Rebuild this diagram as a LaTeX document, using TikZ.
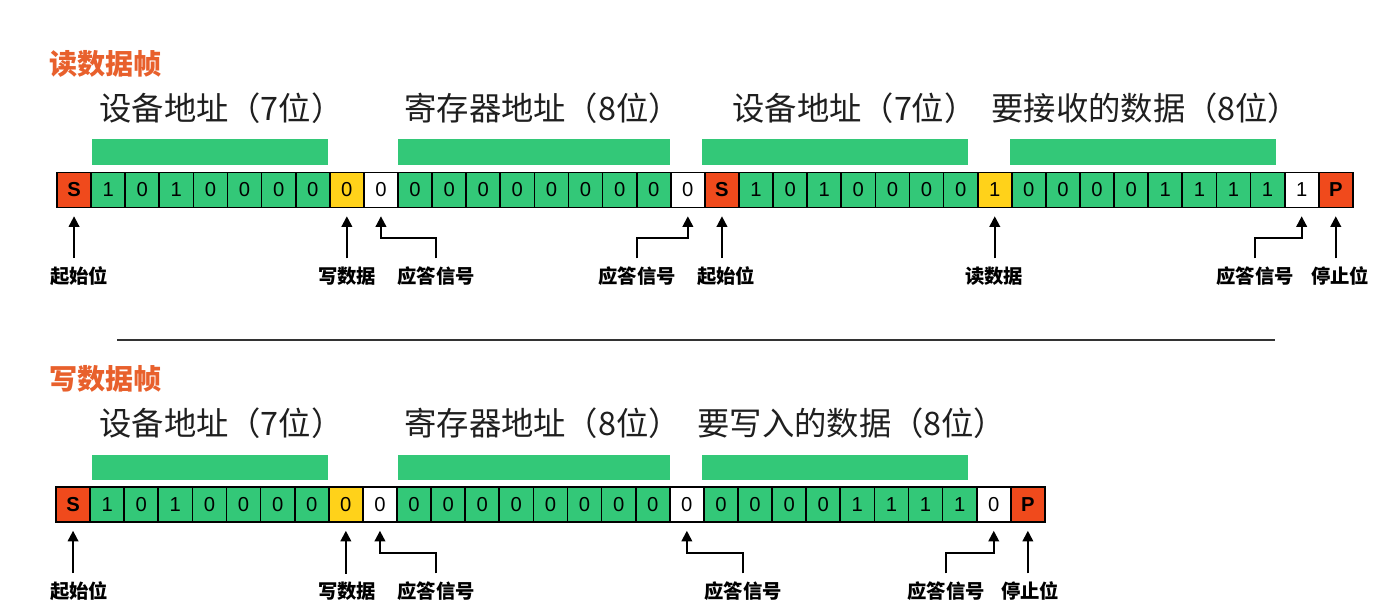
\documentclass[tikz,border=0pt]{standalone}
\usepackage{fontspec}
\setmainfont{Liberation Sans}
\newfontfamily\cjk{Noto Sans CJK SC}
\usetikzlibrary{arrows.meta, positioning}

\definecolor{bitgreen}{HTML}{33C878}
\definecolor{bitred}{HTML}{F04A1C}
\definecolor{bityellow}{HTML}{FFD21A}
\definecolor{headorange}{HTML}{E8602C}

\tikzset{
  bitcell/.style={draw=black, line width=1pt, minimum width=0.682cm, minimum height=0.7cm, inner sep=0pt, font=\fontsize{11.5}{11.5}\selectfont},
  fieldname/.style={anchor=west, inner sep=0pt, text=black!88, font=\cjk\fontsize{18.4}{18.4}\selectfont},
  framehead/.style={anchor=west, inner sep=0pt, text=headorange, font=\cjk\bfseries\fontsize{16}{16}\selectfont},
  siglabel/.style={inner sep=0pt, font=\cjk\bfseries\fontsize{11}{11}\selectfont},
  sigarrow/.style={-{Triangle[length=6pt,width=6pt]}, line width=1.1pt, shorten <=4.5pt, shorten >=4.5pt},
}

\begin{document}
\begin{tikzpicture}[x=0.02cm, y=-0.02cm]
\useasboundingbox (0,0) rectangle (1381,611);

% ---- read frame ----
\node[framehead] (rhead) at (49,64) {读数据帧};
\node[fieldname] (rt1) at (99,108) {设备地址（7位）};
\node[fieldname] (rt2) at (404,108) {寄存器地址（8位）};
\node[fieldname] (rt3) at (732,108) {设备地址（7位）};
\node[fieldname] (rt4) at (991,108) {要接收的数据（8位）};
\fill[bitgreen] (92,139) rectangle (328,165);
\fill[bitgreen] (398,139) rectangle (670,165);
\fill[bitgreen] (702,139) rectangle (968,165);
\fill[bitgreen] (1010,139) rectangle (1276,165);

\foreach \v/\c [count=\i from 0] in {{\textbf{S}}/bitred, 1/bitgreen, 0/bitgreen, 1/bitgreen, 0/bitgreen, 0/bitgreen, 0/bitgreen, 0/bitgreen,
    0/bityellow, 0/white, 0/bitgreen, 0/bitgreen, 0/bitgreen, 0/bitgreen, 0/bitgreen, 0/bitgreen, 0/bitgreen, 0/bitgreen, 0/white,
    {\textbf{S}}/bitred, 1/bitgreen, 0/bitgreen, 1/bitgreen, 0/bitgreen, 0/bitgreen, 0/bitgreen, 0/bitgreen, 1/bityellow,
    0/bitgreen, 0/bitgreen, 0/bitgreen, 0/bitgreen, 1/bitgreen, 1/bitgreen, 1/bitgreen, 1/bitgreen, 1/white, {\textbf{P}}/bitred}
  \node[bitcell, fill=\c] (r\i) at ({57+(\i+0.5)*34.1},190) {\v};

\node[siglabel] (rl1) at (79,276) {起始位};
\node[siglabel] (rl2) at (347,276) {写数据};
\node[siglabel] (rl3) at (436,276) {应答信号};
\node[siglabel] (rl4) at (637,276) {应答信号};
\node[siglabel] (rl5) at (726,276) {起始位};
\node[siglabel] (rl6) at (994,276) {读数据};
\node[siglabel] (rl7) at (1255,276) {应答信号};
\node[siglabel] (rl8) at (1340,276) {停止位};

\draw[sigarrow] (rl1.north -| r0.south) -- (r0.south);
\draw[sigarrow] (rl2.north -| r8.south) -- (r8.south);
\draw[sigarrow] (rl3.north) -- ++(0,-28) -| (r9.south);
\draw[sigarrow] (rl4.north) -- ++(0,-28) -| (r18.south);
\draw[sigarrow] (rl5.north -| r19.south) -- (r19.south);
\draw[sigarrow] (rl6.north -| r27.south) -- (r27.south);
\draw[sigarrow] (rl7.north) -- ++(0,-28) -| (r36.south);
\draw[sigarrow] (rl8.north -| r37.south) -- (r37.south);

% separator
\draw[line width=0.8pt, black!80] (117,340) -- (1275,340);

% ---- write frame ----
\node[framehead] (whead) at (49,379) {写数据帧};
\node[fieldname] (wt1) at (99,423) {设备地址（7位）};
\node[fieldname] (wt2) at (404,423) {寄存器地址（8位）};
\node[fieldname] (wt3) at (697,423) {要写入的数据（8位）};
\fill[bitgreen] (92,455) rectangle (328,480);
\fill[bitgreen] (398,455) rectangle (670,480);
\fill[bitgreen] (702,455) rectangle (968,480);

\foreach \v/\c [count=\i from 0] in {{\textbf{S}}/bitred, 1/bitgreen, 0/bitgreen, 1/bitgreen, 0/bitgreen, 0/bitgreen, 0/bitgreen, 0/bitgreen,
    0/bityellow, 0/white, 0/bitgreen, 0/bitgreen, 0/bitgreen, 0/bitgreen, 0/bitgreen, 0/bitgreen, 0/bitgreen, 0/bitgreen, 0/white,
    0/bitgreen, 0/bitgreen, 0/bitgreen, 0/bitgreen, 1/bitgreen, 1/bitgreen, 1/bitgreen, 1/bitgreen, 0/white, {\textbf{P}}/bitred}
  \node[bitcell, fill=\c] (w\i) at ({56+(\i+0.5)*34.1},504.5) {\v};

\node[siglabel] (wl1) at (79,591) {起始位};
\node[siglabel] (wl2) at (347,591) {写数据};
\node[siglabel] (wl3) at (436,591) {应答信号};
\node[siglabel] (wl4) at (743,591) {应答信号};
\node[siglabel] (wl5) at (946,591) {应答信号};
\node[siglabel] (wl6) at (1030,591) {停止位};

\draw[sigarrow] (wl1.north -| w0.south) -- (w0.south);
\draw[sigarrow] (wl2.north -| w8.south) -- (w8.south);
\draw[sigarrow] (wl3.north) -- ++(0,-28) -| (w9.south);
\draw[sigarrow] (wl4.north) -- ++(0,-28) -| (w18.south);
\draw[sigarrow] (wl5.north) -- ++(0,-28) -| (w27.south);
\draw[sigarrow] (wl6.north -| w28.south) -- (w28.south);
\end{tikzpicture}
\end{document}
